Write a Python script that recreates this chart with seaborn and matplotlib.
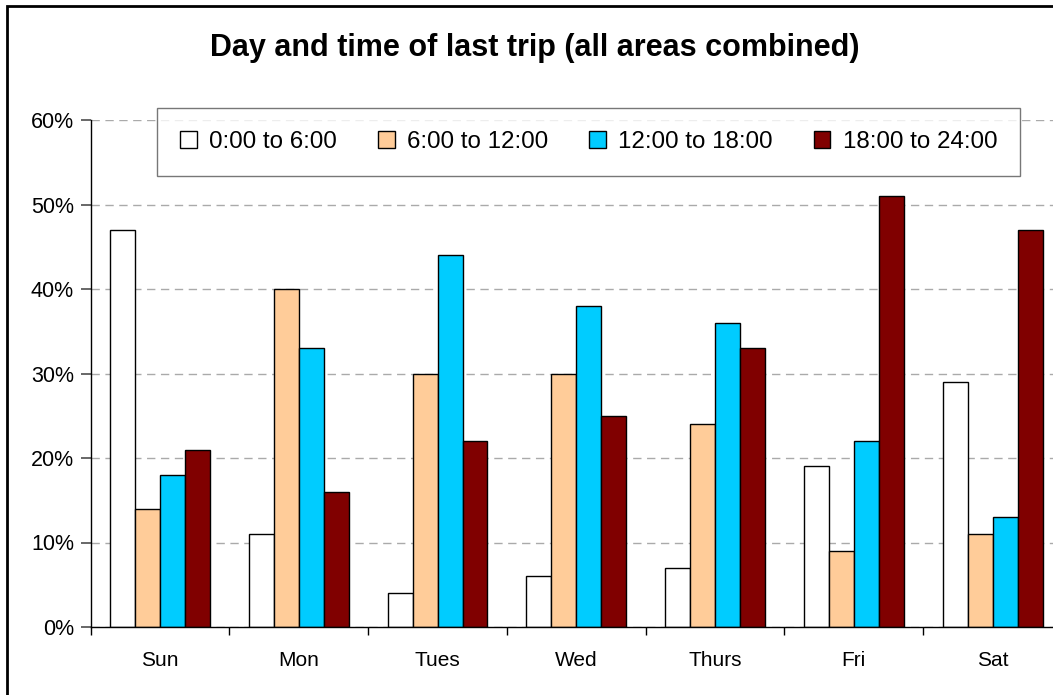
import matplotlib.pyplot as plt
import pandas as pd
import seaborn as sns
from matplotlib.patches import Rectangle

sns.set_theme(style="white")
plt.rcParams["font.family"] = ["Liberation Sans", "DejaVu Sans"]
plt.rcParams["text.color"] = "black"
plt.rcParams["xtick.color"] = "black"
plt.rcParams["ytick.color"] = "black"

days = ["Sun", "Mon", "Tues", "Wed", "Thurs", "Fri", "Sat"]
slots = ["0:00 to 6:00", "6:00 to 12:00", "12:00 to 18:00", "18:00 to 24:00"]
night = [47, 11, 4, 6, 7, 19, 29]
morning = [14, 40, 30, 30, 24, 9, 11]
afternoon = [18, 33, 44, 38, 36, 22, 13]
evening = [21, 16, 22, 25, 33, 51, 47]
colors = ["#FFFFFF", "#FFCC99", "#00CCFF", "#800000"]

# long-form table for seaborn
rows = []
for slot, vals in zip(slots, [night, morning, afternoon, evening]):
    for d, v in zip(days, vals):
        rows.append({"day": d, "slot": slot, "pct": v})
df = pd.DataFrame(rows)

fig = plt.figure(figsize=(10.53, 6.95), dpi=100)
ax = fig.add_axes([90.6 / 1053, 1 - 627 / 695, (1062 - 90.6) / 1053, (627 - 120) / 695])

sns.barplot(
    data=df, x="day", y="pct", hue="slot", order=days, hue_order=slots,
    palette=colors, width=0.72, edgecolor="black", linewidth=1,
    ax=ax, legend=True, saturation=1,
)

ax.set_xlim(-0.5, 6.5)
ax.set_ylim(0, 60)
ax.set_yticks(range(0, 61, 10))
ax.set_yticklabels([f"{t}%" for t in range(0, 61, 10)], fontsize=15.5)
ax.set_xticks([i - 0.5 for i in range(8)], minor=True)
ax.tick_params(axis="x", which="major", length=0, labelsize=15, pad=17)
ax.tick_params(axis="x", which="minor", length=6, direction="out", bottom=True, color="black")
ax.tick_params(axis="y", length=7, direction="out", left=True, color="#555555", pad=5)
ax.set_xlabel("")
ax.set_ylabel("")
ax.yaxis.grid(True, linestyle=(0, (6, 4)), color="#AAAAAA", linewidth=1)
ax.set_axisbelow(True)
for side in ["top", "right"]:
    ax.spines[side].set_visible(False)
for side in ["left", "bottom"]:
    ax.spines[side].set_color("black")
    ax.spines[side].set_linewidth(1)

leg = ax.legend(
    loc="upper left", bbox_to_anchor=((157 - 90.6) / (1062 - 90.6), 1 + 12 / 507),
    ncol=4, fontsize=17.4, frameon=True, fancybox=False, edgecolor="#555555",
    handlelength=0.7, handleheight=0.7, handletextpad=0.5, columnspacing=1.7,
    borderpad=0.95, borderaxespad=0,
)
leg.get_frame().set_linewidth(1)

fig.text(0.508, 1 - 48 / 695, "Day and time of last trip (all areas combined)",
         ha="center", va="center", fontsize=22, fontweight="bold")

# outer chart border
fig.patches.append(Rectangle((7 / 1053, -0.1), 1.2, 1 - 6 / 695 + 0.1,
                             transform=fig.transFigure, fill=False,
                             edgecolor="black", linewidth=2))

fig.savefig("out.png", dpi=100)
